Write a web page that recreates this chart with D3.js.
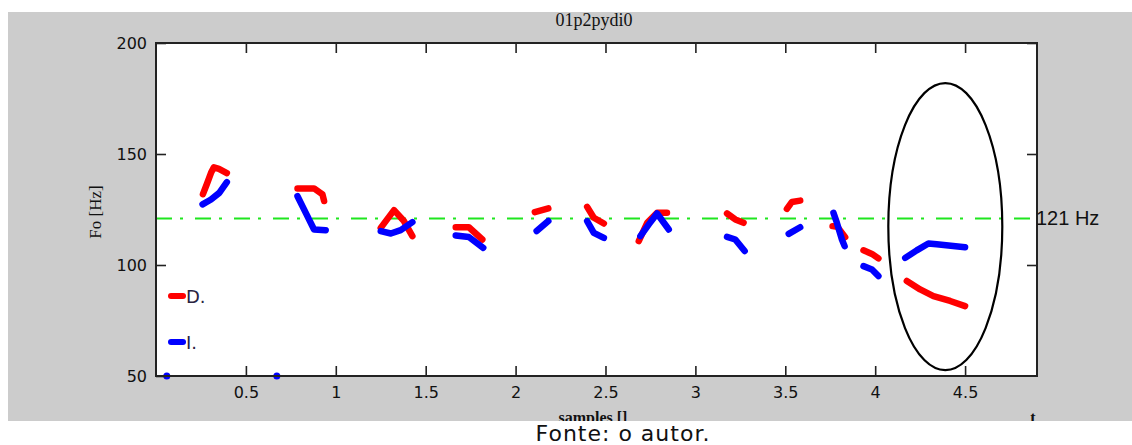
<!DOCTYPE html>
<html>
<head>
<meta charset="utf-8">
<script src="https://cdn.jsdelivr.net/npm/d3@7"></script>
<style>
  html, body { margin: 0; padding: 0; background: #ffffff; }
  svg { display: block; }
</style>
</head>
<body>
<svg id="chart" width="1132" height="445"></svg>
<script>
// Axis ticks
const xTicks = [0.5, 1, 1.5, 2, 2.5, 3, 3.5, 4, 4.5];
const yTicks = [50, 100, 150, 200];
const rightTicks = [100, 150, 200];

// F0 contour segments of the "D." speaker, [time, Hz]
const redSegments = [
  [[0.261, 131.9], [0.283, 136.5], [0.306, 141.5], [0.322, 144.0], [0.350, 143.3], [0.394, 141.4]],
  [[0.787, 134.5], [0.879, 134.5], [0.926, 131.8], [0.935, 128.8]],
  [[1.250, 116.7], [1.324, 124.7], [1.379, 119.8], [1.426, 113.0]],
  [[1.667, 117.0], [1.740, 117.0], [1.815, 111.5]],
  [[2.107, 123.8], [2.182, 125.5]],
  [[2.398, 126.2], [2.435, 121.3], [2.491, 118.7]],
  [[2.685, 110.8], [2.732, 119.0], [2.787, 123.5], [2.842, 123.5]],
  [[3.176, 123.2], [3.222, 120.5], [3.268, 119.0]],
  [[3.509, 125.3], [3.537, 128.4], [3.583, 129.0]],
  [[3.763, 117.5], [3.790, 117.2], [3.833, 112.5]],
  [[3.935, 106.6], [3.982, 105.0], [4.018, 103.0]],
  [[4.176, 92.8], [4.250, 89.0], [4.324, 86.0], [4.417, 83.8], [4.500, 81.5]]
];

// F0 contour segments of the "I." speaker, [time, Hz]
const blueSegments = [
  [[0.259, 127.3], [0.306, 129.5], [0.352, 132.5], [0.394, 137.3]],
  [[0.787, 131.0], [0.833, 123.5], [0.879, 116.0], [0.944, 115.7]],
  [[1.250, 115.3], [1.306, 114.2], [1.361, 115.7], [1.426, 119.3]],
  [[1.667, 113.3], [1.740, 112.6], [1.820, 107.7]],
  [[2.117, 115.3], [2.182, 119.8]],
  [[2.398, 119.8], [2.435, 114.5], [2.491, 112.2]],
  [[2.694, 113.0], [2.741, 118.3], [2.787, 123.2], [2.852, 116.0]],
  [[3.176, 112.7], [3.222, 111.5], [3.274, 106.3]],
  [[3.519, 114.0], [3.583, 117.0]],
  [[3.768, 123.5], [3.787, 119.0], [3.815, 111.5], [3.830, 108.5]],
  [[3.935, 99.5], [3.982, 98.0], [4.018, 95.0]],
  [[4.167, 103.2], [4.231, 106.6], [4.296, 109.7], [4.342, 109.3], [4.500, 108.0]]
];

// Isolated samples sitting on the lower limit
const bluePoints = [[0.06, 50], [0.672, 50]];

// Reference pitch level
const refF0 = 121;
const refLabel = "121 Hz";

// Highlighted final region: centre (time, Hz), half width in time, top and bottom in Hz
const highlight = { cx: 4.39, cy: 117.3, halfWidth: 0.317, top: 182, bottom: 52.7 };

const legendItems = [
  { label: "D.", color: "#ff0000" },
  { label: "I.", color: "#0000ff" }
];

const titleText = "01p2pydi0";
const yLabel = "Fo [Hz]";
const xLabel = "samples []";
const captionText = "Fonte: o autor.";

// ---- layout ----
const svg = d3.select("#chart");
const plot = { left: 156, right: 1037, top: 43, bottom: 376 };
const figure = { left: 8, top: 12, right: 1132, bottom: 421 };

const x = d3.scaleLinear().domain([0, 4.9]).range([plot.left, plot.right]);
const y = d3.scaleLinear().domain([50, 200]).range([plot.bottom, plot.top]);

// Figure area clip (captions at the lower edge run past it)
svg.append("defs").append("clipPath").attr("id", "figclip")
  .append("rect")
  .attr("x", figure.left).attr("y", figure.top)
  .attr("width", figure.right - figure.left).attr("height", figure.bottom - figure.top);

// Grey figure background
svg.append("rect")
  .attr("x", figure.left).attr("y", figure.top)
  .attr("width", figure.right - figure.left).attr("height", figure.bottom - figure.top)
  .attr("fill", "#cccccc");

// Title
svg.append("text")
  .attr("x", 594).attr("y", 26)
  .attr("text-anchor", "middle")
  .attr("font-family", "Liberation Serif, serif")
  .attr("font-size", 18)
  .attr("fill", "#111")
  .text(titleText);

// x axis caption, cut off by the figure edge
const lowCaptions = svg.append("g").attr("clip-path", "url(#figclip)");
lowCaptions.append("text")
  .attr("x", 593).attr("y", 423)
  .attr("text-anchor", "middle")
  .attr("font-family", "Liberation Serif, serif")
  .attr("font-size", 16)
  .attr("font-weight", "bold")
  .attr("fill", "#111")
  .text(xLabel);
lowCaptions.append("text")
  .attr("x", 1033).attr("y", 423)
  .attr("text-anchor", "middle")
  .attr("font-family", "Liberation Serif, serif")
  .attr("font-size", 16)
  .attr("font-weight", "bold")
  .attr("fill", "#111")
  .text("t");

// Plot area
svg.append("rect")
  .attr("x", plot.left).attr("y", plot.top)
  .attr("width", plot.right - plot.left).attr("height", plot.bottom - plot.top)
  .attr("fill", "#ffffff");

// y axis title
svg.append("text")
  .attr("transform", "translate(101,212) rotate(-90)")
  .attr("text-anchor", "middle")
  .attr("font-family", "Liberation Serif, serif")
  .attr("font-size", 17)
  .attr("fill", "#111")
  .text(yLabel);

// Reference line
svg.append("line")
  .attr("x1", plot.left).attr("x2", plot.right)
  .attr("y1", y(refF0)).attr("y2", y(refF0))
  .attr("stroke", "#1fe61f")
  .attr("stroke-width", 2)
  .attr("stroke-dasharray", "16,8,3,12");

// Contours
const line = d3.line().x(d => x(d[0])).y(d => y(d[1]));

const traces = svg.append("g")
  .attr("fill", "none")
  .attr("stroke-width", 6.5)
  .attr("stroke-linecap", "round")
  .attr("stroke-linejoin", "round");

traces.selectAll("path.d")
  .data(redSegments)
  .join("path")
  .attr("class", "d")
  .attr("stroke", "#ff0000")
  .attr("d", line);

traces.selectAll("path.i")
  .data(blueSegments)
  .join("path")
  .attr("class", "i")
  .attr("stroke", "#0000ff")
  .attr("d", line);

svg.append("g").selectAll("circle")
  .data(bluePoints)
  .join("circle")
  .attr("cx", d => x(d[0]))
  .attr("cy", d => y(d[1]))
  .attr("r", 3.5)
  .attr("fill", "#0000ff");

// Highlight ellipse
svg.append("ellipse")
  .attr("cx", x(highlight.cx))
  .attr("cy", y(highlight.cy))
  .attr("rx", x(highlight.cx + highlight.halfWidth) - x(highlight.cx))
  .attr("ry", (y(highlight.bottom) - y(highlight.top)) / 2)
  .attr("fill", "none")
  .attr("stroke", "#000")
  .attr("stroke-width", 2.2);

// Axes with inward ticks on all four sides
const tickFont = g => g.selectAll("text")
  .attr("font-family", "DejaVu Sans, sans-serif")
  .attr("font-size", 16)
  .attr("fill", "#111");
const cleanAxis = g => {
  g.select(".domain").remove();
  g.selectAll(".tick line").attr("stroke", "#222").attr("stroke-width", 1.6);
};

svg.append("g")
  .attr("transform", `translate(0,${plot.bottom})`)
  .call(d3.axisBottom(x).tickValues(xTicks).tickFormat(d3.format("")).tickSize(-10).tickPadding(11))
  .call(cleanAxis).call(tickFont);

svg.append("g")
  .attr("transform", `translate(0,${plot.top})`)
  .call(d3.axisTop(x).tickValues(xTicks).tickFormat("").tickSize(-10))
  .call(cleanAxis);

svg.append("g")
  .attr("transform", `translate(${plot.left},0)`)
  .call(d3.axisLeft(y).tickValues(yTicks).tickSize(-10).tickPadding(9))
  .call(cleanAxis).call(tickFont);

svg.append("g")
  .attr("transform", `translate(${plot.right},0)`)
  .call(d3.axisRight(y).tickValues(rightTicks).tickFormat("").tickSize(-10))
  .call(cleanAxis);

// Frame
svg.append("rect")
  .attr("x", plot.left).attr("y", plot.top)
  .attr("width", plot.right - plot.left).attr("height", plot.bottom - plot.top)
  .attr("fill", "none")
  .attr("stroke", "#222")
  .attr("stroke-width", 2);

// Reference label
svg.append("text")
  .attr("x", 1036).attr("y", y(refF0) + 7)
  .attr("font-family", "Liberation Sans, Arial, sans-serif")
  .attr("font-size", 20)
  .attr("fill", "#111")
  .text(refLabel);

// Legend
const legend = svg.append("g").attr("transform", `translate(${plot.left + 15},296)`);
const item = legend.selectAll("g")
  .data(legendItems)
  .join("g")
  .attr("transform", (d, i) => `translate(0,${i * 46})`);
item.append("line")
  .attr("x1", 0).attr("x2", 12)
  .attr("stroke", d => d.color)
  .attr("stroke-width", 6)
  .attr("stroke-linecap", "round");
item.append("text")
  .attr("x", 15).attr("y", 7)
  .attr("font-family", "DejaVu Sans, sans-serif")
  .attr("font-size", 18)
  .attr("fill", "#2a2340")
  .text(d => d.label);

// Source caption
svg.append("text")
  .attr("x", 623).attr("y", 441)
  .attr("text-anchor", "middle")
  .attr("font-family", "DejaVu Sans, sans-serif")
  .attr("font-size", 22)
  .attr("letter-spacing", 1)
  .attr("fill", "#111")
  .text(captionText);
</script>
</body>
</html>
